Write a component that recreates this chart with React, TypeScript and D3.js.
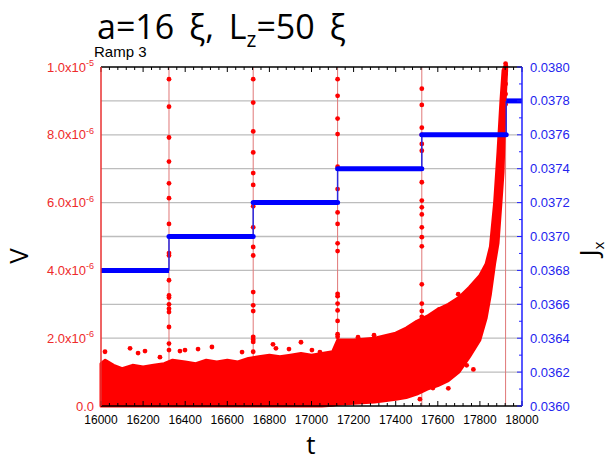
import React from "react";
import * as d3 from "d3";

const W = 607;
const H = 462;

// axes domains
const tDomain = [16000, 18000];
const vDomain = [0, 1e-5];
const jDomain = [0.036, 0.038];

// tick labels
const xTicks = [16000, 16200, 16400, 16600, 16800, 17000, 17200, 17400, 17600, 17800, 18000];
const xTickLabels = ["16000", "16200", "16400", "16600", "16800", "17000", "17200", "17400", "17600", "17800", "18000"];
const vTicks = [0, 2e-6, 4e-6, 6e-6, 8e-6, 1e-5];
const vTickMantissa = ["0.0", "2.0x10", "4.0x10", "6.0x10", "8.0x10", "1.0x10"];
const vTickExp = ["", "-6", "-6", "-6", "-6", "-5"];
const jTicks = [0.036, 0.0362, 0.0364, 0.0366, 0.0368, 0.037, 0.0372, 0.0374, 0.0376, 0.0378, 0.038];
const jTickLabels = ["0.0360", "0.0362", "0.0364", "0.0366", "0.0368", "0.0370", "0.0372", "0.0374", "0.0376", "0.0378", "0.0380"];

// Jx current steps (blue)
const stepStart = [16000, 16323, 16723, 17124, 17524, 17925];
const stepEnd = [16323, 16723, 17124, 17524, 17925, 18000];
const stepJ = [0.0368, 0.037, 0.0372, 0.0374, 0.0376, 0.0378];

// ramp transition times and voltage dots on them (units 1e-6 V)
const rampT = [16323, 16723, 17124, 17524, 17922];
const ramp1V = [9.64, 8.83, 7.92, 7.21, 6.57, 6.13, 5.37, 4.51, 4.44, 3.71, 3.26, 3.2, 3.0, 2.87, 2.77, 2.33, 1.84, 1.65];
const ramp2V = [9.64, 8.95, 8.1, 7.48, 6.87, 6.52, 5.89, 5.27, 4.69, 4.44, 3.36, 2.97, 2.8, 2.04, 1.96, 1.89, 1.6];
const ramp3V = [9.64, 9.15, 8.48, 8.02, 7.06, 6.4, 5.71, 5.37, 4.8, 4.57, 3.31, 3.24, 3.02, 2.82, 2.51, 2.12, 2.04];
const ramp4V = [9.36, 8.88, 8.21, 8.0, 7.73, 7.53, 6.6, 6.06, 5.86, 5.65, 5.27, 4.98, 4.71, 3.59, 3.02, 2.8, 2.63];
const ramp5V = [10.1, 9.8, 9.5, 9.2, 8.9];
const rampDots = [ramp1V, ramp2V, ramp3V, ramp4V, ramp5V];

// noise band envelope (units 1e-6 V)
const noiseT = [16000, 16020, 16060, 16100, 16150, 16200, 16250, 16300, 16340, 16400, 16450, 16500, 16550, 16600, 16650, 16700, 16750, 16800, 16850, 16900, 16950, 17000, 17050, 17100, 17125, 17200, 17300, 17400, 17450, 17500, 17550, 17600, 17650, 17700, 17750, 17800, 17830, 17850, 17870, 17886, 17900, 17910, 17920, 17927];
const noiseHi = [1.25, 1.35, 1.2, 1.1, 1.2, 1.15, 1.2, 1.25, 1.35, 1.3, 1.25, 1.35, 1.3, 1.35, 1.3, 1.4, 1.45, 1.5, 1.45, 1.5, 1.55, 1.5, 1.55, 1.6, 1.95, 1.95, 2.0, 2.15, 2.3, 2.5, 2.65, 2.85, 3.0, 3.2, 3.5, 3.85, 4.2, 4.7, 6.0, 7.5, 9.0, 9.9, 10.05, 10.05];
const noiseLo = [0, 0, 0, 0, 0, 0, 0, 0, 0, 0, 0, 0, 0, 0, 0, 0, 0, 0, 0, 0, 0, 0, 0, 0.02, 0.05, 0.08, 0.12, 0.2, 0.25, 0.35, 0.5, 0.6, 0.75, 1.0, 1.45, 1.95, 2.6, 3.3, 4.2, 4.8, 6.0, 6.9, 9.0, 9.9];

// outlier dots around the band (units 1e-6 V)
const outT = [16019, 16138, 16176, 16209, 16280, 16375, 16399, 16461, 16527, 16670, 16817, 16831, 16893, 16950, 17002, 17040, 17178, 17221, 17297, 17465, 17607, 17697, 17515, 17577, 17650, 17737, 17769];
const outV = [1.6, 1.7, 1.56, 1.62, 1.44, 1.62, 1.65, 1.68, 1.74, 1.59, 1.82, 1.7, 1.68, 1.88, 1.65, 1.59, 1.88, 2.03, 2.09, 2.14, 2.85, 3.3, 0.2, 0.53, 0.52, 1.2, 1.08];

const L = 101, R = 522, T = 67, B = 406;

export default function App() {
  const x = d3.scaleLinear().domain(tDomain).range([L, R]);
  const yV = d3.scaleLinear().domain(vDomain).range([B, T]);
  const yJ = d3.scaleLinear().domain(jDomain).range([B, T]);

  const minorX = d3.range(tDomain[0], tDomain[1] + 1, 40);
  const gridV = d3.range(1e-6, 1e-5 - 1e-9, 1e-6);
  const minorJ = d3.range(0, 21).map((i) => jDomain[0] + i * 0.0001);

  const band = d3
    .area<number>()
    .x((_, i) => x(noiseT[i]))
    .y0((_, i) => yV(noiseLo[i] * 1e-6))
    .y1((_, i) => yV(noiseHi[i] * 1e-6))
    .curve(d3.curveLinear);

  const red = "#ff0000";
  const font = "'Liberation Sans', Arial, sans-serif";
  const titleFont = "'Open Sans', sans-serif";

  return (
    <svg width={W} height={H} style={{ position: "absolute", left: 0, top: 0, background: "#fff" }}>
      {/* gridlines */}
      {gridV.map((v, i) => (
        <line key={"g" + i} x1={L} x2={R} y1={yV(v)} y2={yV(v)} stroke="#bdbdbd" strokeWidth={1.3} />
      ))}

      {/* ramp vertical lines */}
      {rampT.map((t, i) => (
        <line key={"rl" + i} x1={x(t)} x2={x(t)} y1={B} y2={T} stroke="#e07878" strokeWidth={1} />
      ))}

      {/* noise band */}
      <path d={band(noiseT) || ""} fill={red} stroke={red} strokeWidth={3} strokeLinejoin="round" />
      {outT.map((t, i) => (
        <circle key={"o" + i} cx={x(t)} cy={yV(outV[i] * 1e-6)} r={2.4} fill={red} />
      ))}

      {/* ramp dots */}
      {rampDots.map((arr, k) =>
        arr.map((v, i) => <circle key={"rd" + k + "_" + i} cx={x(rampT[k])} cy={yV(v * 1e-6)} r={2.4} fill={red} />)
      )}

      {/* blue steps */}
      {stepJ.slice(0, -1).map((j, i) => (
        <line key={"bc" + i} x1={x(stepEnd[i])} x2={x(stepEnd[i])} y1={yJ(j)} y2={yJ(stepJ[i + 1])} stroke="#2a2ae0" strokeWidth={1.5} />
      ))}
      {stepJ.map((j, i) => (
        <line key={"bs" + i} x1={x(stepStart[i])} x2={x(stepEnd[i])} y1={yJ(j)} y2={yJ(j)} stroke="#0000ff" strokeWidth={5} strokeLinecap={i === 0 || i === stepJ.length - 1 ? "butt" : "round"} />
      ))}

      {/* top & bottom axes */}
      <line x1={L} x2={R} y1={B} y2={B} stroke="#000" strokeWidth={1.5} />
      <line x1={L} x2={R} y1={T} y2={T} stroke="#000" strokeWidth={1.5} />
      {minorX.map((t, i) => {
        const major = (t - 16000) % 200 === 0;
        const len = major ? 5 : 3;
        return (
          <g key={"xt" + i}>
            <line x1={x(t)} x2={x(t)} y1={B} y2={B - len} stroke="#000" strokeWidth={1} />
            <line x1={x(t)} x2={x(t)} y1={T} y2={T + len} stroke="#000" strokeWidth={1} />
          </g>
        );
      })}
      {xTicks.map((t, i) => (
        <text key={"xl" + i} x={x(t)} y={424} fontSize={12} fontFamily={font} textAnchor="middle" fill="#000">
          {xTickLabels[i]}
        </text>
      ))}

      {/* left axis */}
      <line x1={L} x2={L} y1={T} y2={B} stroke="#e83030" strokeWidth={1.5} />
      {vTicks.map((v, i) => (
        <text key={"vl" + i} x={94} y={yV(v) + 4.5} fontSize={13} fontFamily={font} textAnchor="end" fill="#ee2b2b">
          {vTickMantissa[i]}
          {vTickExp[i] ? (
            <tspan dy={-5.5} fontSize={9}>
              {vTickExp[i]}
            </tspan>
          ) : null}
        </text>
      ))}

      {/* right axis */}
      <line x1={R} x2={R} y1={T} y2={B} stroke="#2020ff" strokeWidth={1.5} />
      {minorJ.map((j, i) => (
        <line key={"jt" + i} x1={R} x2={R - (i % 2 === 0 ? 5 : 3)} y1={yJ(j)} y2={yJ(j)} stroke="#2020ff" strokeWidth={1} />
      ))}
      {jTicks.map((j, i) => (
        <text key={"jl" + i} x={530} y={yJ(j) + 4.5} fontSize={13} fontFamily={font} fill="#2424ee">
          {jTickLabels[i]}
        </text>
      ))}

      {/* titles */}
      <text x={97} y={39} fontSize={34} fontFamily={titleFont} wordSpacing={6} fill="#000">
        a=16 ξ, L<tspan dy={8} fontSize={21}>z</tspan>
        <tspan dy={-8}>=50 ξ</tspan>
      </text>
      <text x={94} y={57} fontSize={15} fontFamily={font} fill="#000">
        Ramp 3
      </text>
      <text transform="translate(28,256) rotate(-90)" fontSize={26} fontFamily={titleFont} textAnchor="middle" fill="#000">
        V
      </text>
      <text transform="translate(598,249) rotate(-90)" fontSize={25} fontFamily={titleFont} textAnchor="middle" fill="#000">
        J<tspan dy={6} fontSize={15}>x</tspan>
      </text>
      <text x={311} y={454} fontSize={26} fontFamily={titleFont} textAnchor="middle" fill="#000">
        t
      </text>
    </svg>
  );
}
